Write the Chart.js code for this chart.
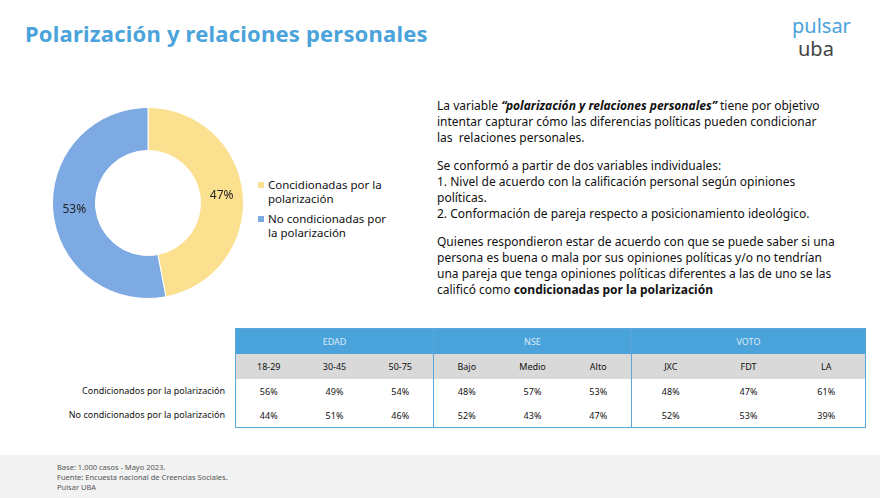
<!DOCTYPE html>
<html><head><meta charset="utf-8">
<script src="https://cdn.jsdelivr.net/npm/chart.js@4"></script>
<style>
body{margin:0;width:880px;height:498px;background:#fff;font-family:"Noto Sans",sans-serif;position:relative;overflow:hidden;color:#111}
.title{position:absolute;left:25px;top:18px;font-size:22px;font-weight:bold;color:#4aa3da;letter-spacing:0.2px}
.logo{position:absolute;left:792px;top:14px;font-size:20px;line-height:23px;color:#4aa3da}
.logo span{color:#444;display:block;padding-left:6px}
.chartbox{position:absolute;left:48px;top:103px;width:200px;height:200px}
.legend{position:absolute;left:258px;top:178px;font-size:11.5px;line-height:14px}
.legend div{position:relative;padding-left:10px;margin-bottom:6px;width:130px}
.legend i{position:absolute;left:0;top:4px;width:6px;height:6px}
.text{position:absolute;left:437px;top:98px;width:430px;font-size:12px;line-height:16px;white-space:nowrap}
.text p{margin:0 0 12px 0}
table{position:absolute;left:235px;top:328px;width:630px;border-collapse:collapse;font-size:9px;text-align:center;border:1.5px solid #5aa6d8;table-layout:fixed}
td{padding:0}
tr.h td{background:#4aa3da;color:#dbeaf7;height:25px}
tr.s td{background:#d9d9d9;height:25px}
tr.d td{height:24px}
td.sep{border-left:1.5px solid #5aa6d8}
.rl{position:absolute;right:655px;font-size:9px;text-align:right;white-space:nowrap}
.footer{position:absolute;left:0;top:455px;width:880px;height:43px;background:#f2f2f2;font-size:7.5px;line-height:10px;color:#555}
.footer div{padding:7px 0 0 57px}
</style></head><body>
<div class="title">Polarización y relaciones personales</div>
<div class="logo">pulsar<span>uba</span></div>
<div class="chartbox"><canvas id="c"></canvas></div>
<div class="legend" id="legend"></div>
<div class="text">
<p>La variable <b><i>“polarización y relaciones personales”</i></b> tiene por objetivo<br>intentar capturar cómo las diferencias políticas pueden condicionar<br>las&nbsp; relaciones personales.</p>
<p>Se conformó a partir de dos variables individuales:<br>1. Nivel de acuerdo con la calificación personal según opiniones<br>políticas.<br>2. Conformación de pareja respecto a posicionamiento ideológico.</p>
<p>Quienes respondieron estar de acuerdo con que se puede saber si una<br>persona es buena o mala por sus opiniones políticas y/o no tendrían<br>una pareja que tenga opiniones políticas diferentes a las de uno se las<br>calificó como <b>condicionadas por la polarización</b></p>
</div>
<table id="tbl"></table>
<div class="rl" style="top:384px">Condicionados por la polarización</div>
<div class="rl" style="top:408px">No condicionados por la polarización</div>
<div class="footer"><div>Base: 1.000 casos - Mayo 2023.<br>Fuente: Encuesta nacional de Creencias Sociales.<br>Pulsar UBA</div></div>
<script>
const pieLabels = ['Concidionadas por la polarización', 'No condicionadas por la polarización'];
const pieValues = [47, 53];
const pieColors = ['#fbe08f', '#7eaae3'];

const groups = ['EDAD', 'NSE', 'VOTO'];
const columns = ['18-29', '30-45', '50-75', 'Bajo', 'Medio', 'Alto', 'JXC', 'FDT', 'LA'];
const condicionados = [56, 49, 54, 48, 57, 53, 48, 47, 61];
const noCondicionados = [44, 51, 46, 52, 43, 47, 52, 53, 39];

// legend
document.getElementById('legend').innerHTML = pieLabels.map((l, i) =>
    `<div><i style="background:${pieColors[i]}"></i>${l}</div>`).join('');

// table (VOTO columns are a little wider in the original)
const colW = i => i < 6 ? 66 : 78;
const sep = i => (i % 3 === 0 && i > 0) ? ' class="sep"' : '';
let html = '<colgroup>' + columns.map((c, i) => `<col style="width:${colW(i)}px">`).join('') + '</colgroup>';
html += '<tr class="h">' + columns.map((c, i) =>
    `<td${sep(i)}>${i % 3 === 1 ? groups[(i - 1) / 3] : ''}</td>`).join('') + '</tr>';
html += '<tr class="s">' + columns.map((c, i) => `<td${sep(i)}>${c}</td>`).join('') + '</tr>';
[condicionados, noCondicionados].forEach(row => {
    html += '<tr class="d">' + row.map((v, i) => `<td${sep(i)}>${v}%</td>`).join('') + '</tr>';
});
document.getElementById('tbl').innerHTML = html;

const pctLabels = {
    id: 'pctLabels',
    afterDatasetsDraw(chart) {
        const ctx = chart.ctx;
        ctx.save();
        ctx.font = '12px "Noto Sans"';
        ctx.fillStyle = '#222';
        ctx.textAlign = 'center';
        ctx.textBaseline = 'middle';
        chart.getDatasetMeta(0).data.forEach((arc, i) => {
            const p = arc.getCenterPoint();
            ctx.fillText(pieValues[i] + '%', p.x, p.y);
        });
        ctx.restore();
    }
};

new Chart(document.getElementById('c'), {
    type: 'doughnut',
    data: {
        labels: pieLabels,
        datasets: [{
            data: pieValues,
            backgroundColor: pieColors,
            borderColor: '#ffffff',
            borderWidth: 1
        }]
    },
    options: {
        responsive: true,
        maintainAspectRatio: false,
        animation: false,
        cutout: '55%',
        layout: { padding: 4 },
        plugins: {
            legend: { display: false },
            tooltip: { enabled: false }
        }
    },
    plugins: [pctLabels]
});
</script>
</body></html>
